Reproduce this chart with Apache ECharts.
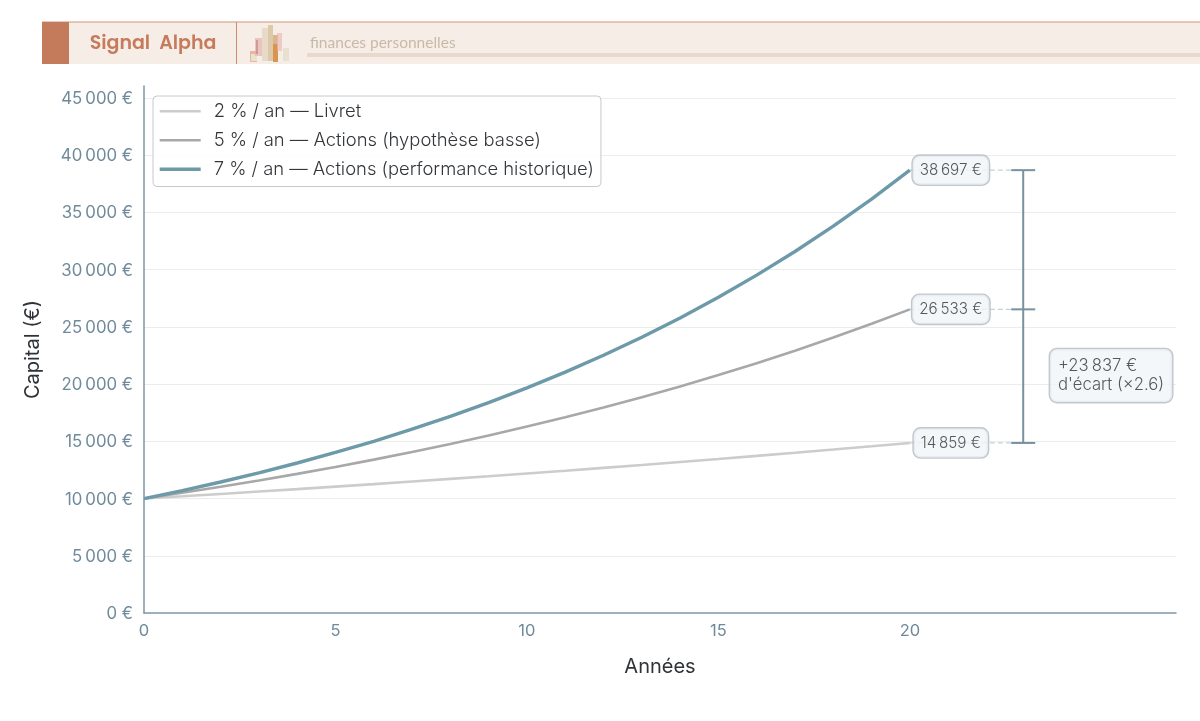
<!DOCTYPE html>
<html lang="fr">
<head>
<meta charset="utf-8">
<title>Signal Alpha — intérêts composés</title>
<script src="https://cdn.jsdelivr.net/npm/echarts@6/dist/echarts.min.js"></script>
<style>
  html, body { margin: 0; padding: 0; background: #fff; }
  #chart { width: 1200px; height: 721px; }
</style>
</head>
<body>
<div id="chart"></div>
<script>
// Capital growth per year for each annual return
const years = [0,1,2,3,4,5,6,7,8,9,10,11,12,13,14,15,16,17,18,19,20];
const livret = [10000,10200,10404,10612,10824,11041,11262,11487,11717,11951,12190,12434,12682,12936,13195,13459,13728,14002,14282,14568,14859];
const actionsBasse = [10000,10500,11025,11576,12155,12763,13401,14071,14775,15513,16289,17103,17959,18856,19799,20789,21829,22920,24066,25270,26533];
const actionsHisto = [10000,10700,11449,12250,13108,14026,15007,16058,17182,18385,19672,21049,22522,24098,25785,27590,29522,31588,33799,36165,38697];
const seriesNames = ['2 % / an — Livret','5 % / an — Actions (hypothèse basse)','7 % / an — Actions (performance historique)'];
const seriesColors = ['#cccccc','#a8a8a8','#6d9aa9'];
const xTickLabels = [0,5,10,15,20];
const gapText = "+23\u202f837 €\nd'écart (×2.6)";

const FONT = 'Inter, "Noto Sans", sans-serif';
const MUTED = '#6f8a9a';
const AXIS = '#7d97a5';
const BOX_FILL = '#f1f5f8';
const BOX_EDGE = '#b0bac3';

const money = v => String(v).replace(/\B(?=(\d{3})+$)/g, '\u202f') + ' €';
const pairs = vals => years.map((y, i) => [y, vals[i]]);
const finals = [livret, actionsBasse, actionsHisto].map(a => a[a.length - 1]);

const endYear = 20, bracketYear = 22.96, labelYear = 21.07;
const gapLabelAt = [23.66, 20750];

const boxLabel = {
  show: true, position: 'inside', fontFamily: FONT, fontWeight: 300, fontSize: 15.2, color: '#2c3035',
  backgroundColor: BOX_FILL, borderColor: BOX_EDGE, borderWidth: 1.4, borderRadius: 7,
  padding: [7, 7, 7, 7]
};

// Header strip with its small skyline of translucent bars
const skyline = [
  [250,51,7,11,'#e8a27c',.75],[251,54,6,7,'#e6e6d8',.95],[255,38,7,18,'#e6a9a5',.6],
  [256,40,2,14,'#b98080',.6],[262,28,6,33,'#e6d9c6',.95],[268,25,5,36,'#dcc6a6',.95],
  [273,35,5,27,'#d0a878',.8],[273,44,5,18,'#d98a3a',.75],[277,33,5,18,'#ecb8b4',.65],
  [283,48,6,13,'#e6e0d0',.95]
];
const header = [
  { type:'rect', shape:{x:42,y:22,width:1158,height:42}, style:{fill:'#f6ede7'} },
  { type:'rect', shape:{x:42,y:21.5,width:1158,height:1}, style:{fill:'#d1937a'} },
  { type:'rect', shape:{x:42,y:22,width:27,height:42}, style:{fill:'#c47b5b'} },
  { type:'rect', shape:{x:236,y:22,width:1,height:42}, style:{fill:'#d08a6c'} },
  { type:'rect', shape:{x:307,y:53,width:893,height:4}, style:{fill:'#e7dacc'} },
  { type:'text', style:{x:153,y:44.5,text:'Signal  Alpha',font:'600 19px Poppins, Lato, Inter, sans-serif',fill:'#c67c5c',align:'center',verticalAlign:'middle'} },
  { type:'text', style:{x:310,y:42.5,text:'finances personnelles',font:'400 15.5px Lato, Inter, sans-serif',fill:'#c8baa6',align:'left',verticalAlign:'middle'} }
].concat(skyline.map(b => ({
  type:'rect', shape:{x:b[0],y:b[1],width:b[2],height:b[3]}, style:{fill:b[4],opacity:b[5]}
})));

const chart = echarts.init(document.getElementById('chart'), null, { renderer: 'canvas' });
chart.setOption({
  animation: false,
  backgroundColor: '#ffffff',
  graphic: header,
  grid: { left: 144, right: 24, top: 86, bottom: 108, containLabel: false },
  legend: {
    left: 153, top: 96, orient: 'vertical', data: seriesNames,
    padding: [5, 7, 7, 5], itemGap: 8.5, itemWidth: 41, itemHeight: 20,
    backgroundColor: 'rgba(255,255,255,0.9)', borderColor: '#c3cad0', borderWidth: 1, borderRadius: 4,
    itemStyle: { opacity: 0 }, lineStyle: { width: 'inherit', opacity: 1 },
    textStyle: { fontFamily: FONT, fontWeight: 300, fontSize: 18.4, color: '#33373b', padding: [0,0,0,8], height: 20.5, lineHeight: 20.5 }
  },
  xAxis: {
    type: 'value', min: 0, max: 26.95, interval: 5,
    name: 'Années', nameLocation: 'middle', nameGap: 44,
    nameTextStyle: { fontFamily: FONT, fontSize: 20, color: '#2f3337' },
    axisLine: { show: true, lineStyle: { color: AXIS, width: 1.5 } },
    axisTick: { show: false }, splitLine: { show: false },
    axisLabel: { customValues: xTickLabels, fontFamily: FONT, fontSize: 16.5, color: MUTED, margin: 10 }
  },
  yAxis: {
    type: 'value', min: 0, max: 46050, interval: 5000,
    name: 'Capital (€)', nameLocation: 'middle', nameGap: 101,
    nameTextStyle: { fontFamily: FONT, fontSize: 20, color: '#2f3337' },
    axisLine: { show: true, onZero: false, lineStyle: { color: AXIS, width: 1.5 } },
    axisTick: { show: false },
    splitLine: { show: true, showMinLine: false, showMaxLine: false, lineStyle: { color: '#ececec', width: 1 } },
    axisLabel: {
      fontFamily: FONT, fontSize: 16.8, color: MUTED, margin: 11, verticalAlign: 'top', lineHeight: 2,
      formatter: v => (v % 5000 === 0 ? money(v) : '')
    }
  },
  series: [
    // Dashed leaders from each final value to the bracket
    ...finals.map(v => ({
      type: 'line', silent: true, symbol: 'none', z: 2,
      lineStyle: { color: '#c4d2d9', width: 1.3, type: [5, 3] },
      data: [[endYear, v], [bracketYear, v]]
    })),
    ...[livret, actionsBasse, actionsHisto].map((vals, i) => ({
      type: 'line', name: seriesNames[i], symbol: 'none', z: 3 + i,
      itemStyle: { color: seriesColors[i] },
      lineStyle: { color: seriesColors[i], width: i === 2 ? 3.4 : 2.6 },
      data: pairs(vals)
    })),
    // Bracket joining the three outcomes
    {
      type: 'custom', silent: true, z: 6,
      data: finals.map(v => [bracketYear, v]),
      encode: { x: 0, y: 1 },
      renderItem: (params, api) => {
        const p = api.coord([api.value(0), api.value(1)]);
        const lineStyle = { stroke: '#78929f', lineWidth: 2, fill: null };
        const children = [{ type: 'line', shape: { x1: p[0] - 12, y1: p[1], x2: p[0] + 12, y2: p[1] }, style: lineStyle }];
        if (params.dataIndex === 0) {
          const top = api.coord([api.value(0), finals[2]]);
          children.push({ type: 'line', shape: { x1: p[0], y1: p[1], x2: top[0], y2: top[1] }, style: lineStyle });
        }
        return { type: 'group', children };
      }
    },
    // Value tags at the end of each curve
    {
      type: 'scatter', silent: true, symbolSize: 0, z: 8,
      data: finals.map(v => [labelYear, v]),
      label: { ...boxLabel, formatter: p => money(p.value[1]) }
    },
    // Gap tag beside the bracket
    {
      type: 'scatter', silent: true, symbolSize: 0, z: 8,
      data: [gapLabelAt],
      label: { ...boxLabel, fontSize: 16.7, lineHeight: 19.5, align: 'left', padding: [7, 8, 7, 8], formatter: () => gapText }
    }
  ]
});
</script>
</body>
</html>
